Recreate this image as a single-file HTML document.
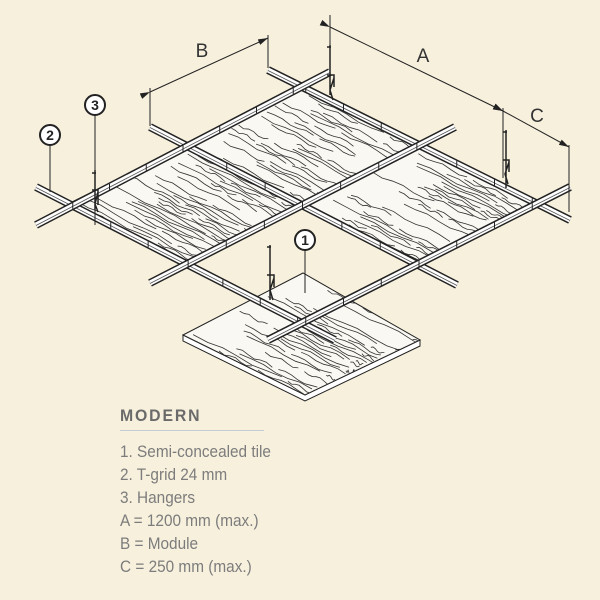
<!DOCTYPE html>
<html><head><meta charset="utf-8">
<style>
html,body{margin:0;padding:0;background:#f7f0dd;}
body{width:600px;height:600px;position:relative;overflow:hidden;font-family:"Liberation Sans Narrow","Liberation Sans",sans-serif;}
svg{position:absolute;left:0;top:0;}
.t{position:absolute;left:120px;color:#7c7c7c;font-size:16.5px;white-space:nowrap;transform:scaleX(0.93);transform-origin:0 0;}
</style></head><body>
<svg id="s" width="600" height="600" viewBox="0 0 600 600" xmlns="http://www.w3.org/2000/svg">
<defs>
<marker id="ar" markerWidth="10" markerHeight="6" refX="10" refY="3" orient="auto" markerUnits="userSpaceOnUse"><path d="M0,0 L10,3 L0,6 z" fill="#222"/></marker>
</defs>
<g id="tiles"></g>
<g id="rails"></g>
<g id="misc" stroke="#222" fill="none" stroke-width="1">
<line x1="330" y1="15" x2="330" y2="75"/>
<line x1="503" y1="108" x2="503" y2="178"/>
<line x1="569" y1="145" x2="569" y2="212"/>
<line x1="150" y1="88" x2="150" y2="126"/>
<line x1="268" y1="35" x2="268" y2="68"/>
<line x1="330" y1="27" x2="503" y2="111" marker-start="url(#ar)" marker-end="url(#ar)"/>
<line x1="503" y1="111" x2="569" y2="147" marker-start="url(#ar)" marker-end="url(#ar)"/>
<line x1="150" y1="92" x2="268" y2="38" marker-start="url(#ar)" marker-end="url(#ar)"/>
<line x1="95" y1="115" x2="95" y2="225"/>
<line x1="50" y1="145" x2="50" y2="192"/>
<line x1="305" y1="250" x2="305" y2="293"/>
<g stroke-width="1.5">
<path d="M95,170 v40 M92,173 h4 M92,190 h6 v15 M98,192 l-3,12 l3,8"/>
<path d="M330,45 v50 M327,47 h4 M327,75 h7 v12 M334,78 l-4,12 l3,10"/>
<path d="M506,130 v58 M503,132 h4 M503,160 h6 v12 M509,162 l-4,12 l3,10"/>
<path d="M270,245 v55 M267,247 h4 M267,275 h7 v12 M274,278 l-4,12 l3,10"/>
</g>
</g>
<g fill="#fff" stroke="#222" stroke-width="2">
<circle cx="95" cy="105" r="10"/><circle cx="50" cy="135" r="10"/><circle cx="305" cy="240" r="10"/>
</g>
<g font-family="Liberation Sans, sans-serif" font-weight="bold" font-size="14" text-anchor="middle" fill="#222">
<text x="95" y="110">3</text><text x="50" y="140">2</text><text x="305" y="245">1</text>
</g>
<g font-family="Liberation Sans Narrow, Liberation Sans, sans-serif" font-size="19" fill="#333" text-anchor="middle">
<text x="423" y="62">A</text><text x="537" y="122">C</text><text x="202" y="57">B</text>
</g>
</svg>
<div class="t" style="top:406px;font-weight:bold;color:#6a6a6a;letter-spacing:2px;font-size:17px;">MODERN</div>
<div style="position:absolute;left:120px;top:430px;width:144px;height:1px;background:#c5cbd3;"></div>
<div class="t" style="top:443px">1. Semi-concealed tile</div>
<div class="t" style="top:466px">2. T-grid 24 mm</div>
<div class="t" style="top:489px">3. Hangers</div>
<div class="t" style="top:512px">A = 1200 mm (max.)</div>
<div class="t" style="top:535px">B = Module</div>
<div class="t" style="top:558px">C = 250 mm (max.)</div>
<script>
var NS="http://www.w3.org/2000/svg";
function el(p,n,a){var e=document.createElementNS(NS,n);for(var k in a)e.setAttribute(k,a[k]);p.appendChild(e);return e;}
var tiles=document.getElementById('tiles'),rails=document.getElementById('rails');
var seed=7;function rnd(){seed=(seed*9301+49297)%233280;return seed/233280;}
function tile(L,T,R,B,id){
  var pts=[L,T,R,B].map(function(p){return p.join(',')}).join(' ');
  var cp=el(document.querySelector('defs'),'clipPath',{id:id});el(cp,'polygon',{points:pts});
  el(tiles,'polygon',{points:pts,fill:'#faf8f2',stroke:'#222','stroke-width':1});
  var g=el(tiles,'g',{'clip-path':'url(#'+id+')',stroke:'#333','stroke-width':0.8,fill:'none'});
  var dx=T[0]-L[0],dy=T[1]-L[1];var ex=B[0]-L[0],ey=B[1]-L[1];
  for(var i=0;i<34;i++){
    var f=(i+0.5)/34;
    if(rnd()<0.2)continue;
    var sx=L[0]+dx*f,sy=L[1]+dy*f;
    var a=rnd()*0.5,b=a+0.2+rnd()*0.6;
    var d='M'+(sx+ex*a)+','+(sy+ey*a);
    var n=6;for(var j=1;j<=n;j++){var t=a+(b-a)*j/n;var w=Math.sin(j*1.7+i)*1.5;d+=' L'+(sx+ex*t)+','+(sy+ey*t+w);}
    el(g,'path',{d:d});
    if(rnd()<0.7){a=b+0.05;b=Math.min(1,a+0.2+rnd()*0.4);d='M'+(sx+ex*a)+','+(sy+ey*a);for(j=1;j<=n;j++){t=a+(b-a)*j/n;w=Math.sin(j*1.3+i)*1.5;d+=' L'+(sx+ex*t)+','+(sy+ey*t+w);}el(g,'path',{d:d});}
  }
}
el(tiles,'polygon',{points:'183,335 183,341 305,401 420,346 420,340 305,395',fill:'#fff',stroke:'#222','stroke-width':1});
tile([183,335],[303,273],[420,340],[305,395],'c0');
tile([70,203],[187,145],[305,205],[187,263],'c1');
tile([187,145],[302,87],[418,145],[305,205],'c2');
tile([305,205],[418,145],[535,203],[422,262],'c3');
function rail(a,b){
  el(rails,'line',{x1:a[0],y1:a[1],x2:b[0],y2:b[1],stroke:'#222','stroke-width':8,'stroke-linecap':'butt'});
  el(rails,'line',{x1:a[0],y1:a[1],x2:b[0],y2:b[1],stroke:'#fff','stroke-width':5});
  el(rails,'line',{x1:a[0],y1:a[1]+0.5,x2:b[0],y2:b[1]+0.5,stroke:'#555','stroke-width':0.8});
  var L=Math.hypot(b[0]-a[0],b[1]-a[1]),n=Math.floor(L/40);
  for(var i=1;i<n;i++){var t=i/n,x=a[0]+(b[0]-a[0])*t,y=a[1]+(b[1]-a[1])*t;el(rails,'line',{x1:x,y1:y-3,x2:x,y2:y+3,stroke:'#222','stroke-width':1});}
}
rail([36,187],[335,340]);
rail([150,127],[457,285]);
rail([268,70],[570,220]);
rail([36,225],[330,72]);
rail([150,283],[455,127]);
rail([268,340],[570,187]);
</script>
</body></html>
